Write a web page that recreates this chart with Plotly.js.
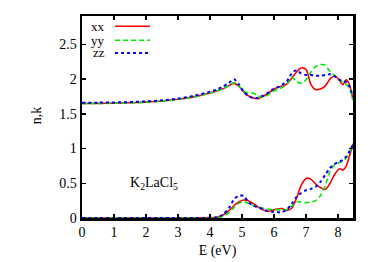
<!DOCTYPE html>
<html>
<head>
<meta charset="utf-8">
<script src="https://cdn.plot.ly/plotly-3.0.1.min.js"></script>
<style>html,body{margin:0;padding:0;background:#fff}#chart{width:374px;height:262px}</style>
</head>
<body>
<div id="chart"></div>
<script>
// Energy grid (eV)
var energy = [0,0.5,1,1.5,2,2.5,3,3.5,4,
  4.2,4.4,4.6,4.75,4.9,5.05,5.2,5.35,5.5,5.65,5.8,5.95,6.1,6.25,6.4,6.55,6.7,6.85,7.0,7.15,7.3,7.45,7.6,7.75,7.9,8.05,8.15,8.25,8.35,8.47];

// refractive index n
var n_xx = [1.65,1.652,1.655,1.66,1.67,1.685,1.71,1.745,1.80,
  1.83,1.86,1.91,1.94,1.90,1.82,1.76,1.73,1.72,1.75,1.79,1.84,1.88,1.90,1.93,2.01,2.10,2.16,2.14,1.93,1.85,1.86,1.90,2.00,2.05,1.98,1.92,1.99,1.93,1.70];
var n_yy = [1.648,1.65,1.653,1.658,1.668,1.683,1.708,1.745,1.80,
  1.83,1.86,1.91,1.95,1.90,1.83,1.80,1.80,1.76,1.74,1.77,1.82,1.85,1.88,1.93,2.03,1.97,1.94,1.99,2.10,2.18,2.21,2.20,2.11,2.05,1.99,1.96,1.93,1.88,1.70];
var n_zz = [1.66,1.662,1.665,1.67,1.68,1.695,1.72,1.76,1.82,
  1.85,1.89,1.95,2.00,1.93,1.82,1.76,1.73,1.73,1.76,1.80,1.85,1.88,1.92,1.97,2.08,2.13,2.08,2.06,2.06,2.05,2.05,2.06,2.07,2.04,1.99,1.97,1.96,1.90,1.75];

// extinction coefficient k
var k_xx = [0,0,0,0,0,0,0,0,0.005,
  0.01,0.04,0.11,0.18,0.23,0.26,0.25,0.21,0.16,0.12,0.095,0.11,0.13,0.135,0.11,0.14,0.28,0.47,0.57,0.56,0.49,0.44,0.41,0.50,0.63,0.71,0.69,0.74,0.88,1.07];
var k_yy = [0,0,0,0,0,0,0,0,0,
  0.005,0.02,0.08,0.15,0.21,0.24,0.21,0.18,0.16,0.14,0.13,0.12,0.12,0.12,0.12,0.17,0.23,0.23,0.22,0.23,0.25,0.32,0.46,0.67,0.77,0.80,0.82,0.86,0.94,1.05];
var k_zz = [0,0,0,0,0,0,0,0,0,
  0.01,0.05,0.15,0.27,0.32,0.32,0.23,0.18,0.15,0.13,0.10,0.09,0.085,0.085,0.12,0.20,0.30,0.36,0.40,0.42,0.45,0.52,0.62,0.72,0.78,0.81,0.84,0.88,0.95,1.06];

var seriesNames = ['xx','yy','zz'];
var colors = ['#ff0000','#00e600','#0000ff'];
var dashes = ['solid','5px,3px','dot'];
var widths = [1.6,1.6,2];
var nData = [n_xx,n_yy,n_zz];
var kData = [k_xx,k_yy,k_zz];

var traces = [];
for (var i=0;i<3;i++){
  traces.push({x:energy,y:nData[i],type:'scatter',mode:'lines',name:seriesNames[i],showlegend:false,
    line:{color:colors[i],dash:dashes[i],width:widths[i],shape:'spline',smoothing:0.8}});
  traces.push({x:energy,y:kData[i],type:'scatter',mode:'lines',name:seriesNames[i],showlegend:false,
    line:{color:colors[i],dash:dashes[i],width:widths[i],shape:'spline',smoothing:0.8}});
}

var FAM = 'Liberation Serif';
var font = {family:FAM, size:14, color:'#000'};
var legFont = {family:FAM, size:13, color:'#000'};
var legendY = [0.949,0.880,0.817];
var annotations = [], shapes = [];
for (var j=0;j<3;j++){
  annotations.push({xref:'paper',yref:'paper',x:0.093,y:legendY[j],text:seriesNames[j],showarrow:false,xanchor:'right',yanchor:'middle',font:legFont});
  shapes.push({type:'line',xref:'paper',yref:'paper',x0:0.122,x1:0.251,y0:legendY[j],y1:legendY[j],line:{color:colors[j],dash:dashes[j],width:widths[j]}});
}
annotations.push({xref:'x',yref:'y',x:2.24,y:0.5,text:'K<sub>2</sub>LaCl<sub>5</sub>',showarrow:false,font:font});
annotations.push({xref:'paper',yref:'paper',x:-0.2,y:0.51,text:'n,k',textangle:-90,showarrow:false,font:font});

var layout = {
  width:374,height:262,
  margin:{l:82,r:21,t:16,b:44},
  paper_bgcolor:'#fff',plot_bgcolor:'#fff',
  font:font,
  xaxis:{range:[0,8.47],tickvals:[0,1,2,3,4,5,6,7,8],ticks:'inside',ticklen:4,tickwidth:1.5,tickcolor:'#000',
    showline:true,linewidth:2.5,linecolor:'#000',mirror:'ticks',showgrid:false,zeroline:false,tickfont:font,
    title:{text:'E (eV)',font:font,standoff:6}},
  yaxis:{range:[0,2.91],tickvals:[0,0.5,1,1.5,2,2.5],ticktext:['0','0.5','1','1.5','2','2.5'],ticks:'inside',ticklen:4,tickwidth:1.5,tickcolor:'#000',
    showline:true,linewidth:2.5,linecolor:'#000',mirror:'ticks',showgrid:false,zeroline:false,tickfont:font},
  annotations:annotations,
  shapes:shapes
};
Plotly.newPlot('chart',traces,layout,{displayModeBar:false,staticPlot:true});
</script>
</body>
</html>
